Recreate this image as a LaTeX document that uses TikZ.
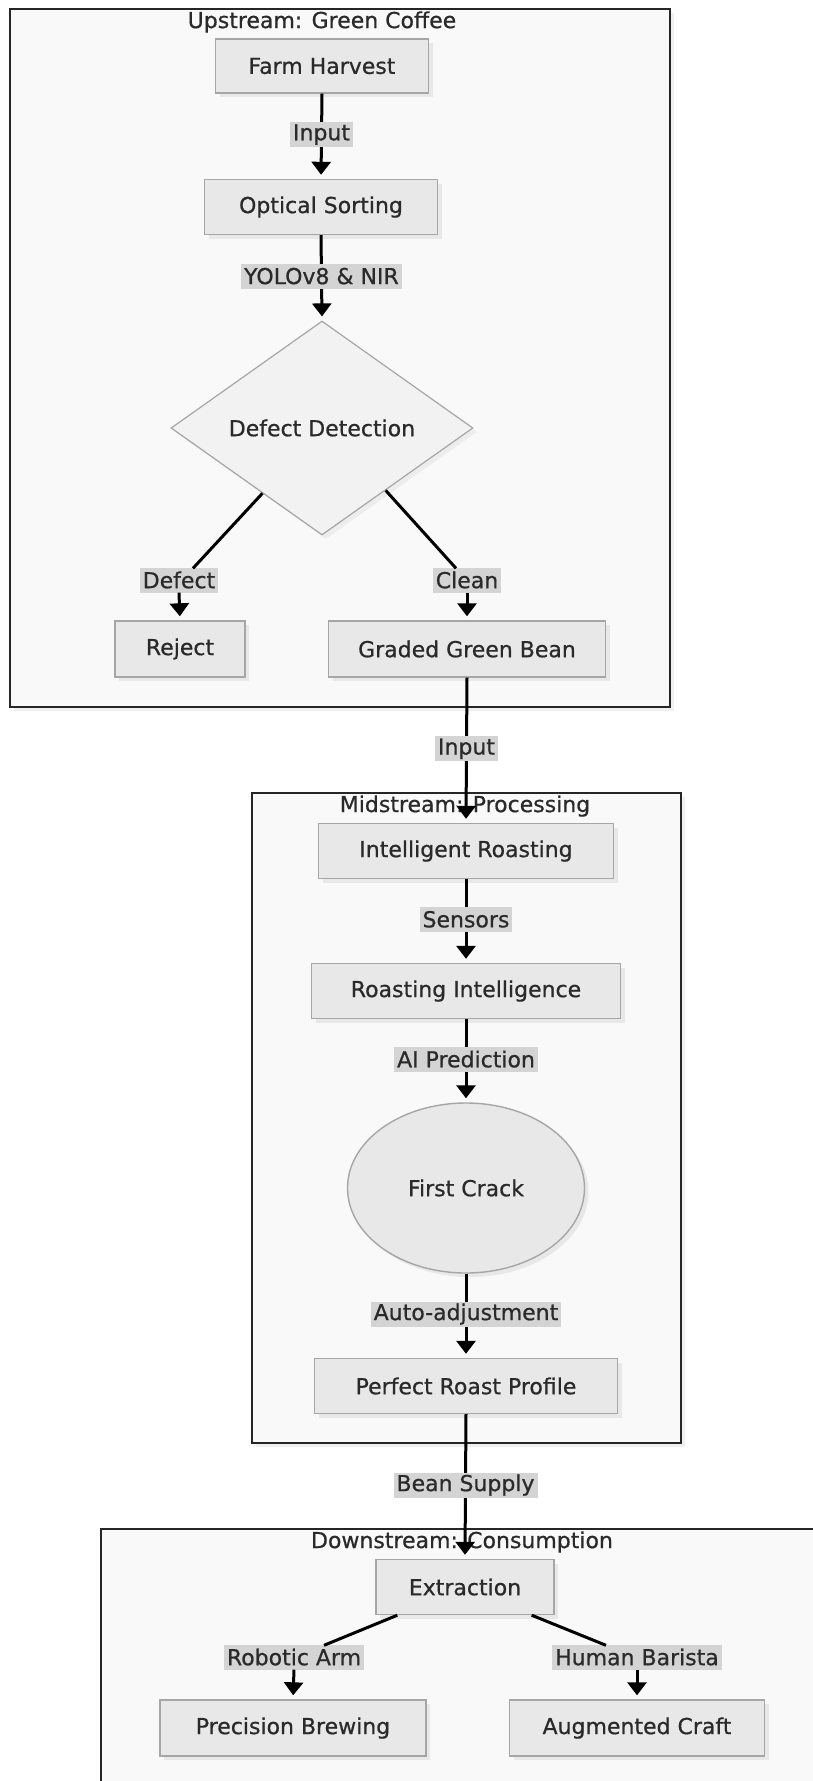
\documentclass[tikz,border=0pt]{standalone}
\usepackage{fontspec}
\setmainfont{DejaVu Sans}[FakeBold=0.7]
\usetikzlibrary{shapes.geometric,arrows.meta,calc,shadows}
\definecolor{txt}{HTML}{2A2A2A}
\definecolor{nodefill}{HTML}{E8E8E8}
\definecolor{nodeline}{HTML}{A6A6A6}
\definecolor{clfill}{HTML}{F9F9F9}
\definecolor{lblfill}{HTML}{D4D4D4}
\definecolor{dfill}{HTML}{F2F2F2}
\newcommand{\fsz}{\fontsize{22}{26}\selectfont}
\begin{document}
\begin{tikzpicture}[x=1pt,y=-1pt,
  procbox/.style={draw=nodeline,line width=1.4pt,fill=nodefill,inner sep=0pt,text=txt,font=\fsz,
    drop shadow={shadow xshift=4pt,shadow yshift=-4pt,fill=black!9,opacity=1}},
  lbl/.style={fill=lblfill,inner xsep=3pt,inner ysep=0pt,minimum height=25pt,text=txt,font=\fsz},
  edge/.style={line width=3pt,draw=black,-{Triangle[width=19pt,length=13pt]},shorten >=4pt},
  plainedge/.style={line width=3pt,draw=black},
  cluster/.style={draw=black!85,line width=2.5pt,fill=clfill,inner sep=0pt,
    drop shadow={shadow xshift=4pt,shadow yshift=-4pt,fill=black!6,opacity=1}},
  cltitle/.style={text=txt,font=\fsz,inner sep=0pt}
]
\useasboundingbox (0,0) rectangle (813,1781);
\clip (0,0) rectangle (813,1781);
\fill[white] (0,0) rectangle (813,1781);

% clusters
\node[cluster,minimum width=660pt,minimum height=698pt] (up) at (340,358) {};
\node[cluster,minimum width=429pt,minimum height=650pt] (mid) at (466.5,1118) {};
\node[cluster,minimum width=749pt,minimum height=271pt] (down) at (475.5,1664.5) {};
\node[cltitle] (uptitle) at (322,22) {Upstream: Green Coffee};
\node[cltitle] (midtitle) at (465,806) {Midstream: Processing};
\node[cltitle] (downtitle) at (462,1542) {Downstream: Consumption};

% upstream nodes
\node[procbox,minimum width=213pt,minimum height=54pt] (farm) at (322,66) {Farm Harvest};
\node[procbox,minimum width=233pt,minimum height=55pt] (opt) at (321,207) {Optical Sorting};
\node[diamond,draw=nodeline,line width=1.2pt,fill=dfill,inner sep=0pt,aspect=1.41,
  minimum width=302pt,minimum height=214pt,text=txt,font=\fsz,
  drop shadow={shadow xshift=4pt,shadow yshift=-4pt,fill=black!7,opacity=1}] (dd) at (322,428) {Defect Detection};
\node[procbox,minimum width=130pt,minimum height=56pt] (rej) at (180,649) {Reject};
\node[procbox,minimum width=277pt,minimum height=56pt] (grad) at (467,649) {Graded Green Bean};

% midstream nodes
\node[procbox,minimum width=295pt,minimum height=55pt] (iroast) at (466,851) {Intelligent Roasting};
\node[procbox,minimum width=309pt,minimum height=55pt] (rint) at (466,991) {Roasting Intelligence};
\node[ellipse,draw=nodeline,line width=1.4pt,fill=nodefill,inner sep=0pt,minimum width=237pt,minimum height=170pt,
  text=txt,font=\fsz,drop shadow={shadow xshift=4pt,shadow yshift=-4pt,fill=black!9,opacity=1}] (crack) at (466,1188) {First Crack};
\node[procbox,minimum width=303pt,minimum height=55pt] (prof) at (466,1386) {Perfect Roast Profile};

% downstream nodes
\node[procbox,minimum width=178pt,minimum height=55pt] (ext) at (465,1587) {Extraction};
\node[procbox,minimum width=266pt,minimum height=56pt] (brew) at (293,1728) {Precision Brewing};
\node[procbox,minimum width=255pt,minimum height=56pt] (craft) at (637,1728) {Augmented Craft};

% straight edges
\draw[edge] (farm.south) -- node[lbl,pos=0.48] (l1) {Input} (opt.north);
\draw[edge] (opt.south) -- node[lbl,pos=0.48] (l2) {YOLOv8 \& NIR} (dd.north);
\draw[edge] (grad.south) -- node[lbl,pos=0.49] (l3) {Input} (iroast.north);
\draw[edge] (iroast.south) -- node[lbl,pos=0.48] (l4) {Sensors} (rint.north);
\draw[edge] (rint.south) -- node[lbl,pos=0.48] (l5) {AI Prediction} (crack.north);
\draw[edge] (crack.south) -- node[lbl,pos=0.48] (l6) {Auto-adjustment} (prof.north);
\draw[edge] (prof.south) -- node[lbl,pos=0.49] (l7) {Bean Supply} (ext.north);

% branching edges
\node[lbl] (ldef) at (179,580) {Defect};
\node[lbl] (lcln) at (467,580) {Clean};
\draw[plainedge] ($(dd.west)!0.607!(dd.south)$) -- ($(ldef.north)+(14,1)$);
\draw[edge] (ldef.south) -- (rej.north);
\draw[plainedge] ($(dd.east)!0.58!(dd.south)$) -- ($(lcln.north)+(-11,1)$);
\draw[edge] (lcln.south) -- (grad.north);

\node[lbl] (lrob) at (294,1657) {Robotic Arm};
\node[lbl] (lhum) at (637,1657) {Human Barista};
\draw[plainedge] ($(ext.south west)+(22,0)$) -- ($(lrob.north)+(30,1)$);
\draw[edge] (lrob.south) -- (brew.north);
\draw[plainedge] ($(ext.south east)+(-23,0)$) -- ($(lhum.north)+(-31,1)$);
\draw[edge] (lhum.south) -- (craft.north);
\end{tikzpicture}
\end{document}
